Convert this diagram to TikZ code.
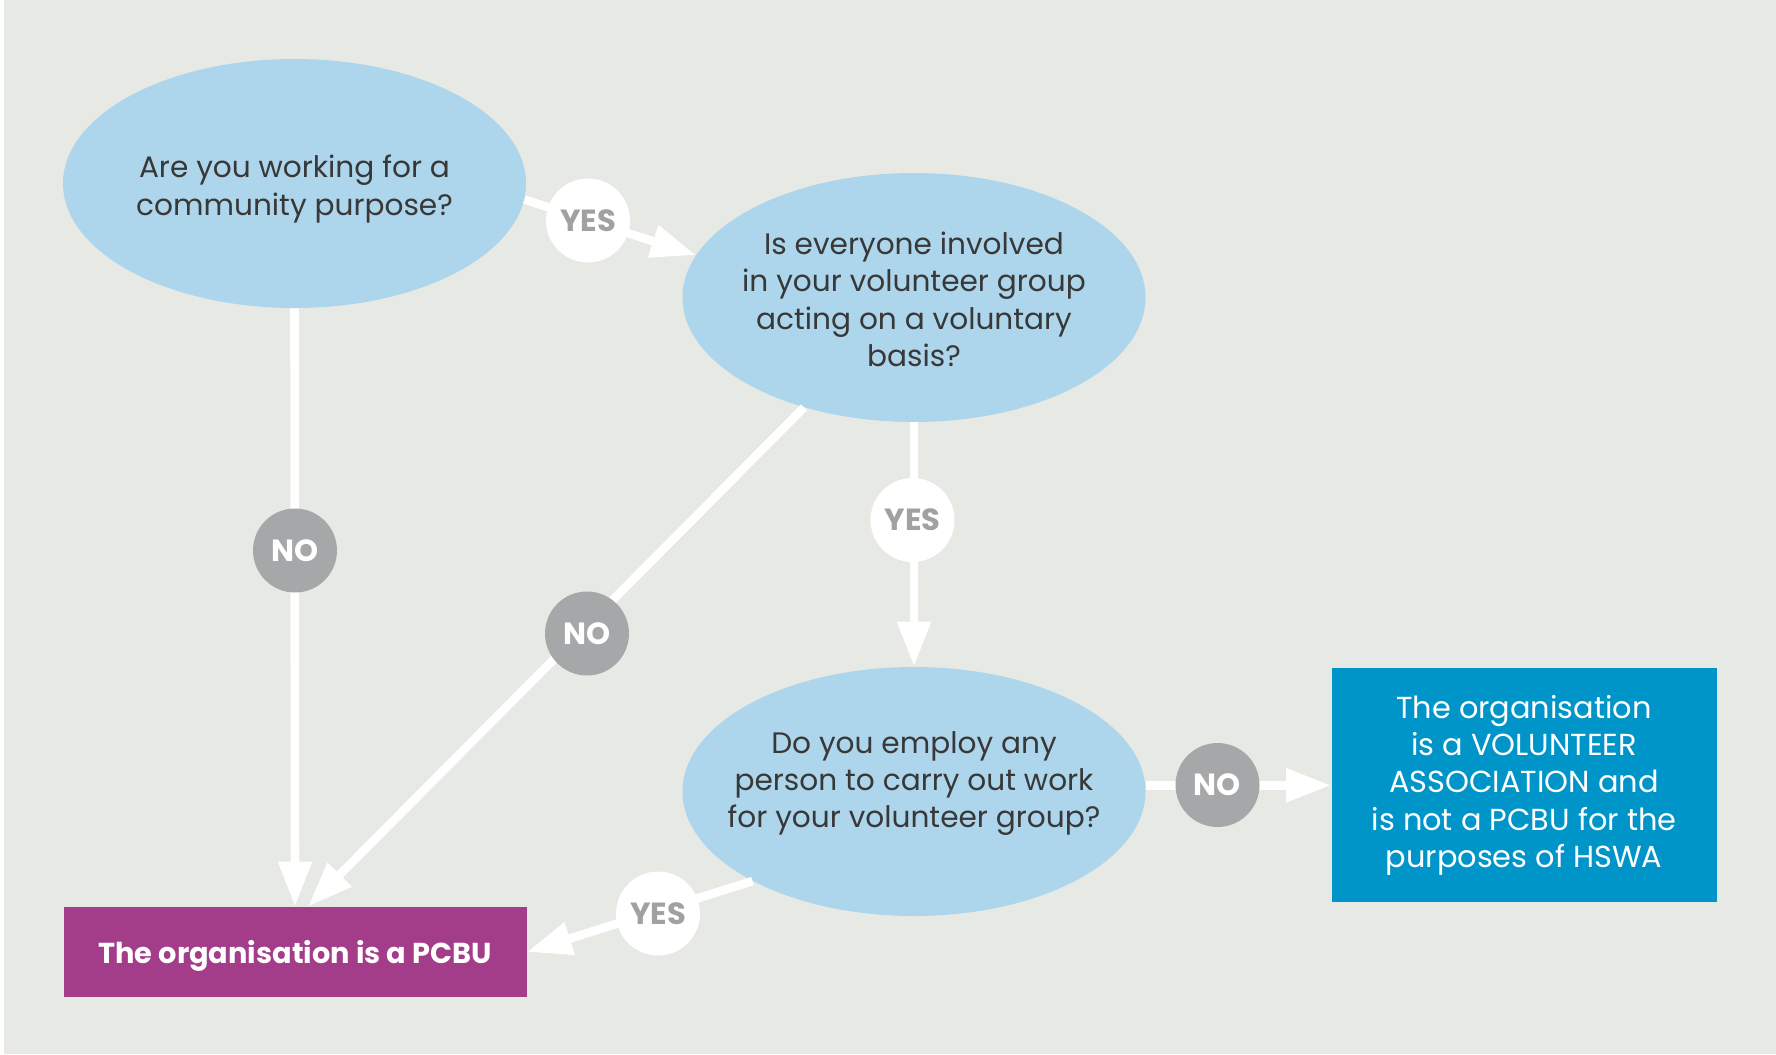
\documentclass[tikz,border=0pt]{standalone}
\usepackage{fontspec}
\setmainfont{Poppins}
\usetikzlibrary{arrows.meta,shapes.geometric,calc}
\definecolor{bg}{HTML}{E7E9E5}
\definecolor{qblue}{HTML}{ADD6EC}
\definecolor{qtext}{HTML}{383838}
\definecolor{pcbupurple}{HTML}{A33D8A}
\definecolor{volblue}{HTML}{0095C9}
\definecolor{nogrey}{HTML}{A6A7A9}
\definecolor{yesgrey}{HTML}{A0A1A3}
\tikzset{
  qshape/.style={ellipse, fill=qblue, minimum width=231.5pt, minimum height=124.5pt, inner sep=0pt},
  qtxt/.style={text=qtext, font=\fontsize{14.8}{18.7}\selectfont, align=center, inner sep=0pt},
  pcbubox/.style={rectangle, fill=pcbupurple, minimum width=231.5pt, minimum height=45pt, inner sep=0pt, text depth=0pt, text=white, font=\bfseries\fontsize{14.4}{17}\selectfont},
  volbox/.style={rectangle, fill=volblue, minimum width=192.5pt, minimum height=117pt, inner sep=0pt, text=white, align=center, font=\fontsize{15.2}{18.7}\selectfont},
  yesc/.style={circle, fill=white, minimum size=42pt, inner sep=0pt, text=yesgrey, font=\bfseries\fontsize{15.3}{17}\selectfont},
  noc/.style={circle, fill=nogrey, minimum size=42pt, inner sep=0pt, text=white, font=\bfseries\fontsize{15.3}{17}\selectfont},
  arr/.style={draw=white, line width=4.3pt, -{Triangle[length=22.5pt,width=16pt]}}
}
\begin{document}
\begin{tikzpicture}[x=0.5pt,y=-0.5pt]
\fill[bg] (0,0) rectangle (1776,1054);
\fill[white] (0,0) rectangle (4,1054);
\useasboundingbox (0,0) rectangle (1776,1054);

\node[qshape] (e1) at (294.5,183.5) {};
\node[qshape] (e2) at (914,297.5) {};
\node[qshape] (e3) at (914,791.5) {};
\node[pcbubox] (pcbu) at (295,952) {The organisation is a PCBU};
\node[volbox] (vol) at (1524,785.3) {The organisation\\is a VOLUNTEER\\ASSOCIATION and\\is not a PCBU for the\\purposes of HSWA};

\draw[arr] (e1.-4) -- (e2.169);
\draw[arr] (e1.south) -- (pcbu.north);
\draw[arr] (e2.225) -- (pcbu.74);
\draw[arr] (e2.south) -- (e3.north);
\draw[arr] (e3.east |- vol.west) -- (vol.west);
\draw[arr] (e3.209) -- (pcbu.east);

\node[yesc] (y1) at (588,220.5) {YES};
\node[yesc] (y2) at (912.5,520) {YES};
\node[yesc] (y3) at (658,913.5) {YES};
\node[noc] (n1) at (295,550.5) {NO};
\node[noc] (n2) at (587,633.5) {NO};
\node[noc] (n3) at (1217.5,785) {NO};

\node[qtxt] (e1t) at ($(e1)+(0,5.5)$) {Are you working for a\\community purpose?};
\node[qtxt] (e2t) at ($(e2)+(0,2)$) {Is everyone involved\\in your volunteer group\\acting on a voluntary\\basis?};
\node[qtxt] (e3t) at ($(e3)+(0,-8)$) {Do you employ any\\person to carry out work\\for your volunteer group?};
\end{tikzpicture}
\end{document}
